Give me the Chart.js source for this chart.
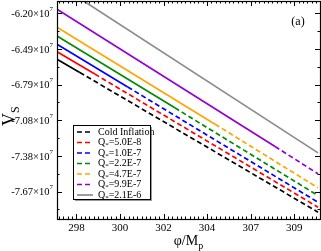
<!DOCTYPE html>
<html>
<head>
<meta charset="utf-8">
<script src="https://cdn.jsdelivr.net/npm/chart.js@4.4.1/dist/chart.umd.min.js"></script>
<style>
  html, body { margin: 0; padding: 0; background: #fff; }
  #chart { display: block; }
</style>
</head>
<body>
<canvas id="chart" width="321" height="251"></canvas>
<script>
const SERIF = '"Liberation Serif", "DejaVu Serif", serif';

// series: solid part, then dashed after the middle point (gray stays solid)
const seriesNames = ["Cold Inflation", "Q*=5.0E-8", "Q*=1.0E-7", "Q*=2.2E-7", "Q*=4.7E-7", "Q*=9.9E-7", "Q*=2.1E-6"];
const seriesColors = ["#000000", "#ff0000", "#0000ff", "#008b00", "#ffa500", "#9400d3", "#8c8c8c"];

const phiCold = [296.82, 297.97, 310.0];
const vCold = [-6.580e7, -6.689e7, -7.843e7];
const phiQ1 = [296.82, 298.73, 310.0];
const vQ1 = [-6.517e7, -6.702e7, -7.802e7];
const phiQ2 = [296.82, 300.39, 310.0];
const vQ2 = [-6.456e7, -6.809e7, -7.761e7];
const phiQ3 = [296.82, 302.77, 310.0];
const vQ3 = [-6.387e7, -6.981e7, -7.706e7];
const phiQ4 = [296.82, 304.8, 310.0];
const vQ4 = [-6.3155e7, -7.116e7, -7.642e7];
const phiQ5 = [296.82, 307.83, 310.0];
const vQ5 = [-6.167e7, -7.301e7, -7.526e7];
const phiQ6 = [296.82, 310.0];
const vQ6 = [-5.956e7, -7.353e7];

const xTickValues = [297.8, 300.0, 302.2, 304.4, 306.6, 308.8];
const xTickLabels = ["298", "300", "302", "304", "307", "309"];
const yTickValues = [-6.2e7, -6.4945e7, -6.789e7, -7.0835e7, -7.378e7, -7.6725e7];
const yTickLabels = ["-6.20", "-6.49", "-6.79", "-7.08", "-7.38", "-7.67"];

const X_MIN = 296.82, X_MAX = 310.1, X_MINOR = 0.22;
const Y_MIN = -7.8995e7, Y_MAX = -6.0985e7, Y_MINOR = 0.14725e7;

const allPhi = [phiCold, phiQ1, phiQ2, phiQ3, phiQ4, phiQ5, phiQ6];
const allV = [vCold, vQ1, vQ2, vQ3, vQ4, vQ5, vQ6];
const DASH = [5, 3];

function makeDataset(i) {
  const pts = allPhi[i].map((phi, k) => ({ x: phi, y: allV[i][k] }));
  return {
    label: seriesNames[i],
    data: pts,
    borderColor: seriesColors[i],
    borderWidth: 1.7,
    pointRadius: 0,
    fill: false,
    tension: 0,
    dashedLegend: pts.length > 2,
    segment: {
      borderDash: (ctx) => (pts.length > 2 && ctx.p0DataIndex >= 1 ? DASH : undefined),
    },
  };
}

// draws "Q" + subscript "*" + rest, or plain text
function drawLabel(ctx, text, x, y) {
  ctx.font = "10px " + SERIF;
  if (text.startsWith("Q*")) {
    ctx.fillText("Q", x, y);
    let w = ctx.measureText("Q").width;
    ctx.font = "7px " + SERIF;
    ctx.fillText("*", x + w, y + 3);
    w += ctx.measureText("*").width;
    ctx.font = "10px " + SERIF;
    ctx.fillText(text.slice(2), x + w, y);
  } else {
    ctx.fillText(text, x, y);
  }
}

const framePlugin = {
  id: "framePlugin",
  afterDatasetsDraw(chart) {
    const { ctx, chartArea: a, scales } = chart;
    const x = scales.x, y = scales.y;
    ctx.save();
    ctx.strokeStyle = "#000";
    ctx.lineWidth = 1;
    ctx.setLineDash([]);

    // inward ticks, top and bottom
    ctx.beginPath();
    for (let i = -10; i <= 70; i++) {
      const v = xTickValues[0] + i * X_MINOR;
      if (v < X_MIN || v > X_MAX) continue;
      const px = Math.round(x.getPixelForValue(v)) + 0.5;
      const len = i % 10 === 0 ? 5 : 2.5;
      ctx.moveTo(px, a.bottom); ctx.lineTo(px, a.bottom - len);
      ctx.moveTo(px, a.top); ctx.lineTo(px, a.top + len);
    }
    // left and right
    for (let i = -2; i <= 14; i++) {
      const v = yTickValues[0] - i * Y_MINOR;
      if (v < Y_MIN || v > Y_MAX) continue;
      const py = Math.round(y.getPixelForValue(v)) + 0.5;
      const len = i % 2 === 0 ? 5 : 2.5;
      ctx.moveTo(a.left, py); ctx.lineTo(a.left + len, py);
      ctx.moveTo(a.right, py); ctx.lineTo(a.right - len, py);
    }
    ctx.stroke();

    ctx.lineWidth = 1.2;
    ctx.strokeRect(Math.round(a.left) + 0.5, Math.round(a.top) + 0.5, Math.round(a.right - a.left), Math.round(a.bottom - a.top));

    // y tick labels with exponent
    ctx.fillStyle = "#000";
    ctx.textBaseline = "middle";
    y.ticks.forEach((t, k) => {
      const py = y.getPixelForValue(t.value);
      ctx.font = "7px " + SERIF;
      const expW = ctx.measureText("7").width;
      const right = a.left - 4;
      ctx.textAlign = "right";
      ctx.fillText("7", right, py - 4);
      ctx.font = "10.5px " + SERIF;
      ctx.fillText(yTickLabels[k] + "\u00d710", right - expW, py + 1);
    });

    // panel tag
    ctx.font = "12px " + SERIF;
    ctx.textAlign = "center";
    ctx.fillText("(a)", 298, 22);

    // axis titles
    ctx.textAlign = "left";
    ctx.textBaseline = "alphabetic";
    ctx.font = "14px " + SERIF;
    const xt = "\u03c6/M";
    const xtw = ctx.measureText(xt).width;
    const xl = (a.left + a.right) / 2 - (xtw + 5) / 2;
    ctx.fillText(xt, xl, 245);
    ctx.font = "10px " + SERIF;
    ctx.fillText("p", xl + xtw, 249);

    ctx.save();
    ctx.translate(15, (a.top + a.bottom) / 2 + 16);
    ctx.rotate(-Math.PI / 2);
    ctx.font = "18px " + SERIF;
    ctx.fillText("V", 0, 0);
    const vw = ctx.measureText("V").width;
    ctx.font = "12px " + SERIF;
    ctx.fillText("S", vw, 4);
    ctx.restore();

    // legend box
    const bx = 73, by = 125, bw = 77, bh = 74;
    ctx.fillStyle = "#999";
    ctx.fillRect(bx + 2, by + 2, bw, bh);
    ctx.fillStyle = "#fff";
    ctx.fillRect(bx, by, bw, bh);
    ctx.lineWidth = 1;
    ctx.strokeStyle = "#000";
    ctx.strokeRect(bx + 0.5, by + 0.5, bw, bh);

    ctx.textBaseline = "middle";
    chart.data.datasets.forEach((ds, i) => {
      const ry = by + 7 + i * 10.5;
      ctx.strokeStyle = ds.borderColor;
      ctx.lineWidth = 1.7;
      ctx.setLineDash(ds.dashedLegend ? DASH : []);
      ctx.beginPath();
      ctx.moveTo(bx + 4, ry);
      ctx.lineTo(bx + 20, ry);
      ctx.stroke();
      ctx.setLineDash([]);
      ctx.fillStyle = "#000";
      drawLabel(ctx, ds.label, bx + 25, ry);
    });
    ctx.restore();
  },
};

function init() {
  const ctx = document.getElementById("chart");
  new Chart(ctx, {
    type: "line",
    data: { datasets: seriesNames.map((_, i) => makeDataset(i)) },
    options: {
      responsive: false,
      animation: false,
      devicePixelRatio: 1,
      layout: { padding: { top: 1, right: 1, left: 0, bottom: 0 } },
      plugins: { legend: { display: false }, tooltip: { enabled: false } },
      scales: {
        x: {
          type: "linear",
          min: X_MIN,
          max: X_MAX,
          grid: { display: false, drawTicks: false },
          border: { display: false },
          afterBuildTicks: (scale) => { scale.ticks = xTickValues.map((v) => ({ value: v })); },
          afterFit: (scale) => { scale.height = 32; },
          ticks: {
            autoSkip: false,
            maxRotation: 0,
            padding: 3,
            color: "#000",
            font: { family: SERIF, size: 11 },
            callback: (value, index) => xTickLabels[index],
          },
        },
        y: {
          type: "linear",
          min: Y_MIN,
          max: Y_MAX,
          grid: { display: false, drawTicks: false },
          border: { display: false },
          afterBuildTicks: (scale) => { scale.ticks = yTickValues.map((v) => ({ value: v })); },
          afterFit: (scale) => { scale.width = 57; },
          ticks: { display: false },
        },
      },
    },
    plugins: [framePlugin],
  });
}

init();
</script>
</body>
</html>
